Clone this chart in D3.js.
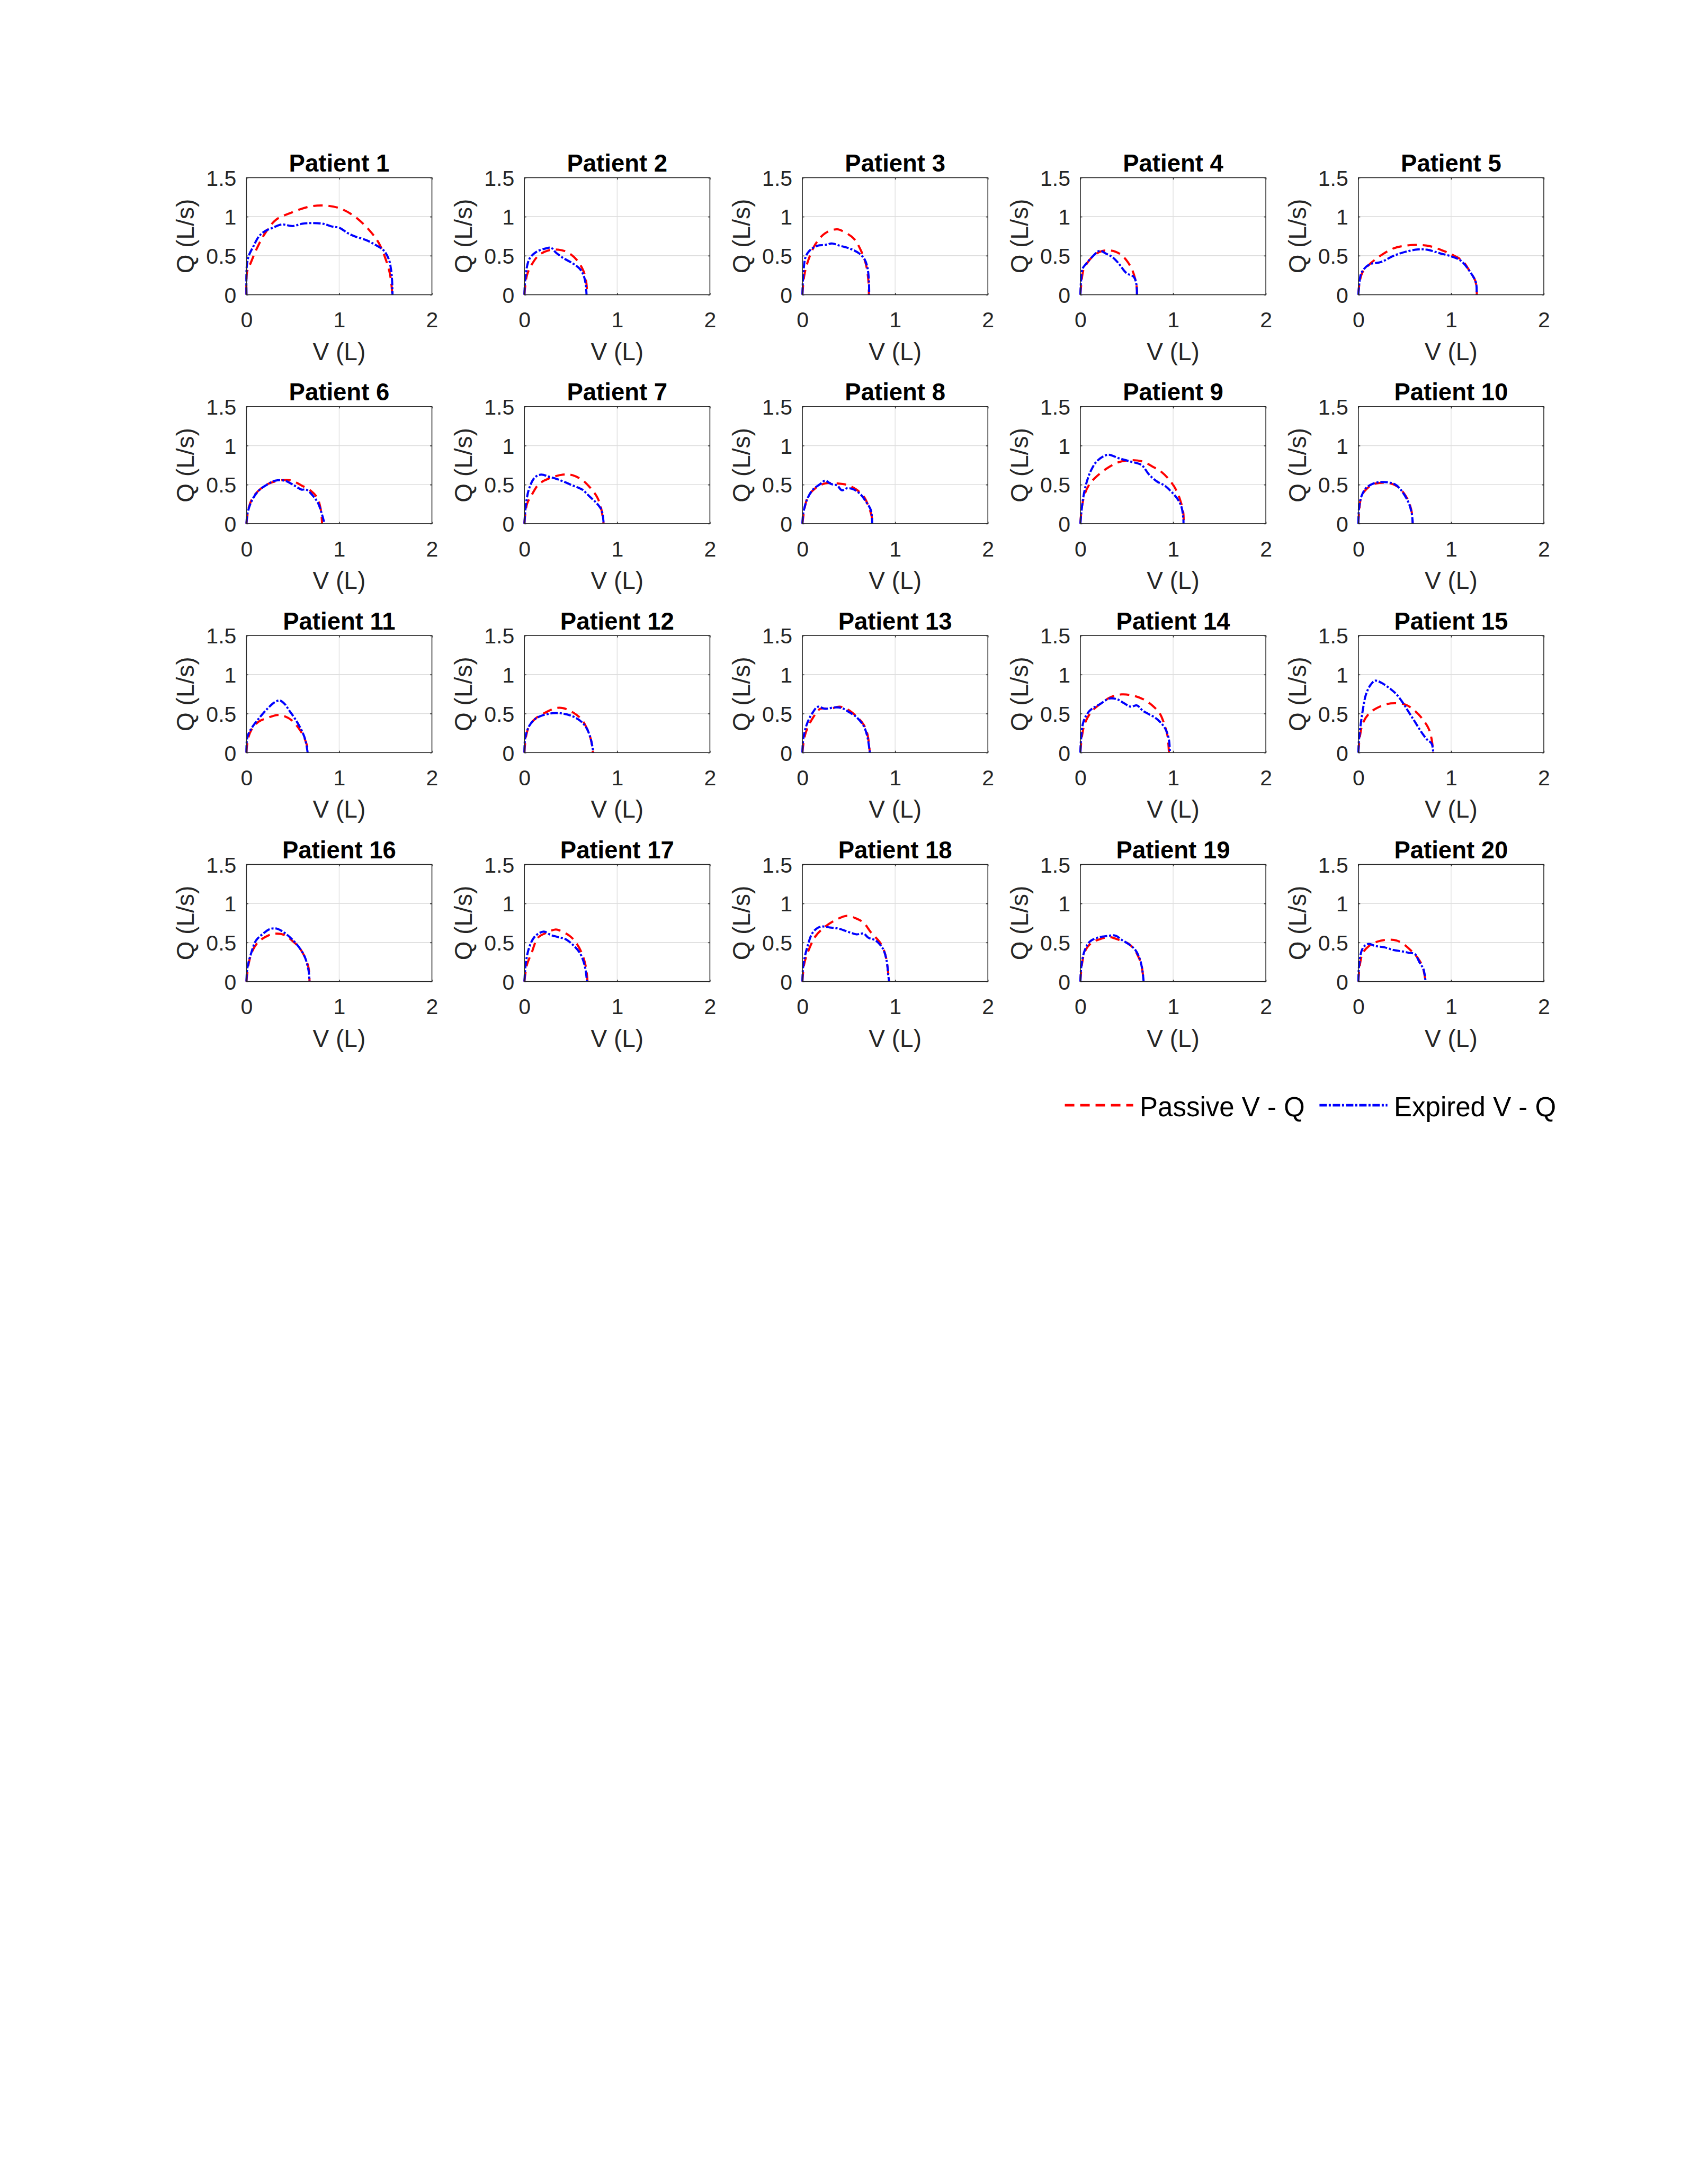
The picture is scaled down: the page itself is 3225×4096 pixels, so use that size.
<!DOCTYPE html>
<html>
<head>
<meta charset="utf-8">
<script src="https://cdn.jsdelivr.net/npm/d3@7/dist/d3.min.js"></script>
<style>
  html, body { margin: 0; padding: 0; background: #ffffff; }
  svg { display: block; }
</style>
</head>
<body>
<script>
// ---------------- data ----------------
const patientNames = ["Patient 1","Patient 2","Patient 3","Patient 4","Patient 5",
  "Patient 6","Patient 7","Patient 8","Patient 9","Patient 10",
  "Patient 11","Patient 12","Patient 13","Patient 14","Patient 15",
  "Patient 16","Patient 17","Patient 18","Patient 19","Patient 20"];

const xTicks = [0, 1, 2];
const yTicks = [0, 0.5, 1, 1.5];
const xLabel = "V (L)";
const yLabel = "Q (L/s)";
const legendLabels = ["Passive V - Q", "Expired V - Q"];

// Passive V - Q curves: [V (L), Q (L/s)]
const passiveCurves = [
  [[0,0],[0.008,0.30],[0.045,0.405],[0.115,0.60],[0.197,0.78],[0.318,0.96],[0.48,1.05],[0.683,1.13],[0.845,1.143],[1.007,1.107],[1.17,1.0],[1.33,0.82],[1.43,0.657],[1.50,0.46],[1.545,0.28],[1.565,0.117],[1.572,0]],
  [[0,0],[0.026,0.245],[0.078,0.385],[0.156,0.507],[0.26,0.568],[0.364,0.577],[0.468,0.542],[0.571,0.437],[0.639,0.297],[0.665,0.175],[0.675,0.05],[0.676,0]],
  [[0,0],[0.02,0.245],[0.062,0.437],[0.14,0.647],[0.244,0.787],[0.374,0.839],[0.452,0.804],[0.556,0.717],[0.634,0.559],[0.686,0.385],[0.712,0.175],[0.717,0]],
  [[0,0],[0.01,0.14],[0.033,0.315],[0.082,0.42],[0.148,0.507],[0.231,0.559],[0.297,0.568],[0.379,0.551],[0.445,0.507],[0.51,0.42],[0.56,0.315],[0.593,0.192],[0.61,0.07],[0.61,0]],
  [[0,0],[0.016,0.175],[0.049,0.297],[0.132,0.402],[0.247,0.507],[0.379,0.594],[0.511,0.629],[0.626,0.638],[0.774,0.621],[0.923,0.559],[1.021,0.507],[1.12,0.437],[1.203,0.297],[1.262,0.175],[1.278,0]],
  [[0,0],[0.026,0.21],[0.077,0.35],[0.18,0.472],[0.284,0.533],[0.412,0.559],[0.49,0.551],[0.593,0.49],[0.696,0.42],[0.763,0.332],[0.80,0.192],[0.814,0.035],[0.815,0]],
  [[0,0],[0.026,0.245],[0.078,0.367],[0.156,0.507],[0.26,0.577],[0.416,0.629],[0.519,0.621],[0.623,0.559],[0.701,0.472],[0.779,0.35],[0.821,0.227],[0.852,0.017],[0.853,0]],
  [[0,0],[0.026,0.21],[0.062,0.35],[0.14,0.455],[0.244,0.516],[0.374,0.516],[0.478,0.498],[0.582,0.437],[0.66,0.35],[0.712,0.227],[0.748,0.087],[0.753,0]],
  [[0,0],[0.016,0.21],[0.049,0.385],[0.099,0.507],[0.181,0.612],[0.297,0.717],[0.412,0.787],[0.544,0.813],[0.675,0.795],[0.774,0.734],[0.873,0.664],[0.972,0.542],[1.038,0.42],[1.087,0.262],[1.11,0.14],[1.114,0]],
  [[0,0],[0.01,0.175],[0.033,0.35],[0.082,0.437],[0.165,0.507],[0.247,0.524],[0.346,0.516],[0.428,0.472],[0.494,0.385],[0.544,0.28],[0.577,0.14],[0.586,0]],
  [[0,0],[0.015,0.167],[0.052,0.289],[0.129,0.395],[0.232,0.447],[0.335,0.482],[0.412,0.465],[0.49,0.412],[0.567,0.307],[0.619,0.202],[0.655,0.079],[0.66,0]],
  [[0,0],[0.016,0.2],[0.052,0.342],[0.13,0.447],[0.234,0.518],[0.338,0.57],[0.416,0.57],[0.519,0.518],[0.613,0.43],[0.675,0.307],[0.717,0.167],[0.738,0]],
  [[0,0],[0.02,0.184],[0.052,0.307],[0.114,0.447],[0.192,0.561],[0.296,0.561],[0.40,0.588],[0.488,0.553],[0.582,0.465],[0.66,0.36],[0.701,0.237],[0.727,0]],
  [[0,0],[0.016,0.2],[0.049,0.377],[0.115,0.518],[0.214,0.623],[0.329,0.711],[0.445,0.746],[0.577,0.728],[0.692,0.675],[0.774,0.605],[0.857,0.5],[0.906,0.36],[0.939,0.219],[0.955,0]],
  [[0,0],[0.016,0.2],[0.049,0.377],[0.115,0.5],[0.198,0.57],[0.313,0.623],[0.412,0.632],[0.511,0.614],[0.61,0.535],[0.692,0.43],[0.758,0.307],[0.791,0.167],[0.807,0]],
  [[0,0],[0.021,0.21],[0.062,0.386],[0.129,0.509],[0.232,0.588],[0.309,0.614],[0.412,0.596],[0.49,0.526],[0.567,0.439],[0.629,0.316],[0.67,0.175],[0.68,0]],
  [[0,0],[0.026,0.21],[0.078,0.368],[0.145,0.561],[0.234,0.623],[0.338,0.667],[0.39,0.649],[0.494,0.579],[0.561,0.491],[0.623,0.351],[0.665,0.175],[0.68,0]],
  [[0,0],[0.02,0.228],[0.062,0.386],[0.14,0.579],[0.244,0.702],[0.374,0.798],[0.478,0.842],[0.582,0.807],[0.66,0.754],[0.738,0.632],[0.842,0.491],[0.893,0.351],[0.919,0.175],[0.935,0]],
  [[0,0],[0.016,0.21],[0.049,0.386],[0.115,0.491],[0.214,0.544],[0.313,0.57],[0.412,0.535],[0.511,0.491],[0.577,0.421],[0.626,0.316],[0.659,0.21],[0.682,0]],
  [[0,0],[0.016,0.21],[0.049,0.368],[0.115,0.456],[0.198,0.509],[0.297,0.535],[0.412,0.526],[0.494,0.474],[0.577,0.386],[0.643,0.298],[0.692,0.193],[0.725,0]]
];

// Expired V - Q curves: [V (L), Q (L/s)]
const expiredCurves = [
  [[0,0],[0.004,0.37],[0.024,0.495],[0.075,0.62],[0.136,0.75],[0.207,0.82],[0.278,0.855],[0.379,0.90],[0.50,0.88],[0.60,0.91],[0.703,0.918],[0.825,0.909],[0.926,0.873],[1.007,0.855],[1.088,0.792],[1.169,0.747],[1.29,0.70],[1.39,0.64],[1.48,0.567],[1.534,0.459],[1.558,0.333],[1.57,0.19],[1.574,0.045],[1.575,0]],
  [[0,0],[0.01,0.21],[0.052,0.455],[0.13,0.55],[0.234,0.594],[0.286,0.603],[0.338,0.542],[0.416,0.472],[0.52,0.402],[0.597,0.332],[0.639,0.245],[0.66,0.14],[0.67,0]],
  [[0,0],[0.01,0.262],[0.036,0.49],[0.088,0.577],[0.166,0.629],[0.244,0.638],[0.322,0.656],[0.40,0.629],[0.504,0.594],[0.608,0.533],[0.67,0.455],[0.701,0.35],[0.717,0.175],[0.72,0]],
  [[0,0],[0.007,0.175],[0.023,0.332],[0.066,0.402],[0.132,0.49],[0.208,0.563],[0.28,0.524],[0.346,0.481],[0.412,0.402],[0.494,0.28],[0.577,0.227],[0.603,0.14],[0.61,0]],
  [[0,0],[0.01,0.14],[0.033,0.28],[0.115,0.385],[0.247,0.42],[0.379,0.498],[0.511,0.551],[0.643,0.58],[0.741,0.577],[0.873,0.533],[1.005,0.49],[1.104,0.437],[1.203,0.297],[1.268,0.157],[1.275,0]],
  [[0,0],[0.01,0.122],[0.052,0.28],[0.129,0.42],[0.232,0.507],[0.309,0.551],[0.412,0.551],[0.515,0.49],[0.593,0.437],[0.644,0.437],[0.722,0.35],[0.773,0.262],[0.809,0.14],[0.835,0.026],[0.836,0]],
  [[0,0],[0.016,0.245],[0.052,0.455],[0.114,0.594],[0.182,0.629],[0.26,0.603],[0.338,0.577],[0.416,0.542],[0.519,0.49],[0.623,0.437],[0.701,0.35],[0.779,0.262],[0.831,0.175],[0.852,0.035],[0.853,0]],
  [[0,0],[0.01,0.14],[0.052,0.315],[0.114,0.437],[0.192,0.507],[0.244,0.551],[0.312,0.507],[0.374,0.49],[0.426,0.428],[0.488,0.455],[0.556,0.437],[0.634,0.367],[0.686,0.28],[0.738,0.175],[0.753,0]],
  [[0,0],[0.01,0.14],[0.033,0.35],[0.066,0.524],[0.115,0.682],[0.181,0.804],[0.297,0.883],[0.412,0.839],[0.544,0.795],[0.659,0.752],[0.741,0.629],[0.824,0.542],[0.906,0.49],[0.972,0.42],[1.038,0.332],[1.087,0.227],[1.11,0.07],[1.112,0]],
  [[0,0],[0.007,0.192],[0.033,0.35],[0.082,0.455],[0.165,0.516],[0.247,0.533],[0.346,0.524],[0.412,0.49],[0.478,0.402],[0.544,0.262],[0.577,0.122],[0.586,0]],
  [[0,0],[0.01,0.2],[0.052,0.307],[0.129,0.43],[0.232,0.57],[0.309,0.649],[0.361,0.667],[0.412,0.623],[0.464,0.535],[0.526,0.43],[0.593,0.289],[0.634,0.167],[0.66,0]],
  [[0,0],[0.01,0.2],[0.052,0.342],[0.114,0.43],[0.208,0.482],[0.312,0.505],[0.416,0.50],[0.519,0.465],[0.597,0.412],[0.665,0.325],[0.717,0.167],[0.743,0]],
  [[0,0],[0.01,0.184],[0.052,0.377],[0.114,0.518],[0.166,0.588],[0.244,0.561],[0.348,0.579],[0.426,0.57],[0.504,0.518],[0.582,0.456],[0.66,0.342],[0.701,0.202],[0.727,0]],
  [[0,0],[0.007,0.167],[0.033,0.395],[0.099,0.535],[0.214,0.623],[0.313,0.693],[0.395,0.684],[0.461,0.64],[0.544,0.588],[0.61,0.605],[0.675,0.535],[0.741,0.491],[0.807,0.447],[0.873,0.377],[0.923,0.289],[0.955,0.167],[0.965,0]],
  [[0,0],[0.007,0.167],[0.023,0.342],[0.049,0.553],[0.082,0.746],[0.132,0.868],[0.181,0.921],[0.247,0.895],[0.346,0.816],[0.412,0.746],[0.478,0.642],[0.544,0.518],[0.61,0.395],[0.675,0.272],[0.741,0.167],[0.791,0.114],[0.807,0]],
  [[0,0],[0.01,0.175],[0.052,0.368],[0.103,0.526],[0.18,0.614],[0.258,0.675],[0.335,0.675],[0.412,0.623],[0.49,0.544],[0.567,0.439],[0.629,0.316],[0.67,0.14],[0.68,0]],
  [[0,0],[0.016,0.246],[0.052,0.439],[0.114,0.579],[0.208,0.64],[0.286,0.596],[0.364,0.57],[0.442,0.544],[0.519,0.474],[0.597,0.368],[0.649,0.21],[0.675,0]],
  [[0,0],[0.01,0.21],[0.052,0.439],[0.114,0.632],[0.192,0.702],[0.296,0.693],[0.40,0.675],[0.504,0.632],[0.582,0.605],[0.66,0.614],[0.712,0.561],[0.79,0.526],[0.868,0.421],[0.909,0.263],[0.925,0.088],[0.935,0]],
  [[0,0],[0.01,0.193],[0.043,0.386],[0.099,0.509],[0.181,0.561],[0.28,0.582],[0.379,0.588],[0.445,0.535],[0.527,0.474],[0.593,0.404],[0.643,0.281],[0.669,0.14],[0.682,0]],
  [[0,0],[0.007,0.193],[0.033,0.386],[0.066,0.456],[0.115,0.482],[0.181,0.456],[0.28,0.439],[0.379,0.404],[0.478,0.386],[0.544,0.368],[0.61,0.351],[0.659,0.246],[0.702,0.158],[0.725,0]]
];

// ---------------- layout ----------------
const W = 3225, H = 4096;
const S = 0.773;
const nCols = 5;
const plotW = 453 * S, plotH = 286 * S;
const left0 = 602 * S, colStep = 679 * S;
const top0 = 434 * S, rowStep = 559.3 * S;
const FONT = "'Liberation Sans', Arial, Helvetica, sans-serif";
const tickFont = 41, labelFont = 46, titleFont = 45.5, legendFont = 51;
const axisColor = "#262626";
const gridColor = "#dedede";
const passiveColor = "#ff0000", expiredColor = "#0000ff";
const lineW = 4;
const passiveDash = "18,11";
const expiredDash = "14,3.5,4,3.5";
const tickLen = 3.5;

const svg = d3.select("body").append("svg")
  .attr("width", W).attr("height", H)
  .attr("viewBox", `0 0 ${W} ${H}`);
svg.append("rect").attr("width", W).attr("height", H).attr("fill", "#ffffff");

const x = d3.scaleLinear().domain([xTicks[0], xTicks[xTicks.length - 1]]).range([0, plotW]);
const y = d3.scaleLinear().domain([yTicks[0], yTicks[yTicks.length - 1]]).range([plotH, 0]);
const line = d3.line().x(d => x(d[0])).y(d => y(d[1])).curve(d3.curveCatmullRom.alpha(0.5));

patientNames.forEach((name, i) => {
  const col = i % nCols, row = Math.floor(i / nCols);
  const g = svg.append("g").attr("transform", `translate(${left0 + col * colStep},${top0 + row * rowStep})`);

  // grid
  g.append("g").selectAll("line").data(xTicks.slice(1, -1)).join("line")
    .attr("x1", d => x(d)).attr("x2", d => x(d)).attr("y1", 0).attr("y2", plotH)
    .attr("stroke", gridColor).attr("stroke-width", 1.3);
  g.append("g").selectAll("line").data(yTicks.slice(1, -1)).join("line")
    .attr("x1", 0).attr("x2", plotW).attr("y1", d => y(d)).attr("y2", d => y(d))
    .attr("stroke", gridColor).attr("stroke-width", 1.6);

  // curves
  g.append("path").datum(passiveCurves[i]).attr("d", line)
    .attr("fill", "none").attr("stroke", passiveColor).attr("stroke-width", lineW)
    .attr("stroke-dasharray", passiveDash);
  g.append("path").datum(expiredCurves[i]).attr("d", line)
    .attr("fill", "none").attr("stroke", expiredColor).attr("stroke-width", lineW)
    .attr("stroke-dasharray", expiredDash);

  // axes
  const styleAxis = sel => {
    sel.select(".domain").remove();
    sel.selectAll(".tick line").attr("stroke", axisColor).attr("stroke-width", 1.5);
    sel.selectAll(".tick text").attr("fill", axisColor).attr("font-family", FONT).attr("font-size", tickFont);
  };
  g.append("g").attr("transform", `translate(0,${plotH})`)
    .call(d3.axisBottom(x).tickValues(xTicks).tickFormat(d3.format("d")).tickSizeInner(-tickLen).tickSizeOuter(0).tickPadding(32.5))
    .call(styleAxis);
  g.append("g")
    .call(d3.axisLeft(y).tickValues(yTicks).tickFormat(d => String(d)).tickSizeInner(-tickLen).tickSizeOuter(0).tickPadding(19))
    .call(styleAxis)
    .call(s => s.selectAll(".tick text").attr("dy", "0.36em"));
  g.append("g")
    .call(d3.axisTop(x).tickValues(xTicks).tickFormat("").tickSizeInner(-tickLen).tickSizeOuter(0))
    .call(styleAxis);
  g.append("g").attr("transform", `translate(${plotW},0)`)
    .call(d3.axisRight(y).tickValues(yTicks).tickFormat("").tickSizeInner(-tickLen).tickSizeOuter(0))
    .call(styleAxis);

  // box
  g.append("rect").attr("x", 0).attr("y", 0).attr("width", plotW).attr("height", plotH)
    .attr("fill", "none").attr("stroke", axisColor).attr("stroke-width", 1.6);

  // title
  g.append("text").attr("x", plotW / 2).attr("y", -11.5)
    .attr("text-anchor", "middle").attr("font-family", FONT).attr("font-weight", "bold")
    .attr("font-size", titleFont).attr("fill", "#000000").text(name);

  // axis labels
  g.append("text").attr("x", plotW / 2).attr("y", plotH + 123)
    .attr("text-anchor", "middle").attr("font-family", FONT)
    .attr("font-size", labelFont).attr("fill", axisColor).text(xLabel);
  g.append("text").attr("transform", `translate(${-99.3},${plotH / 2}) rotate(-90)`)
    .attr("text-anchor", "middle").attr("font-family", FONT)
    .attr("font-size", labelFont).attr("fill", axisColor).text(yLabel);
});

// legend
const legendY = 2700 * S;
const legendItems = [
  { label: legendLabels[0], color: passiveColor, dash: passiveDash, x1: 2601 * S, x2: 2768 * S, tx: 2784 * S },
  { label: legendLabels[1], color: expiredColor, dash: expiredDash, x1: 3223 * S, x2: 3389 * S, tx: 3405 * S }
];
const lg = svg.append("g");
legendItems.forEach(it => {
  lg.append("line").attr("x1", it.x1).attr("x2", it.x2).attr("y1", legendY).attr("y2", legendY)
    .attr("stroke", it.color).attr("stroke-width", lineW + 0.6).attr("stroke-dasharray", it.dash);
  lg.append("text").attr("x", it.tx).attr("y", 2727 * S)
    .attr("font-family", FONT).attr("font-size", legendFont).attr("fill", "#000000").text(it.label);
});
</script>
</body>
</html>
